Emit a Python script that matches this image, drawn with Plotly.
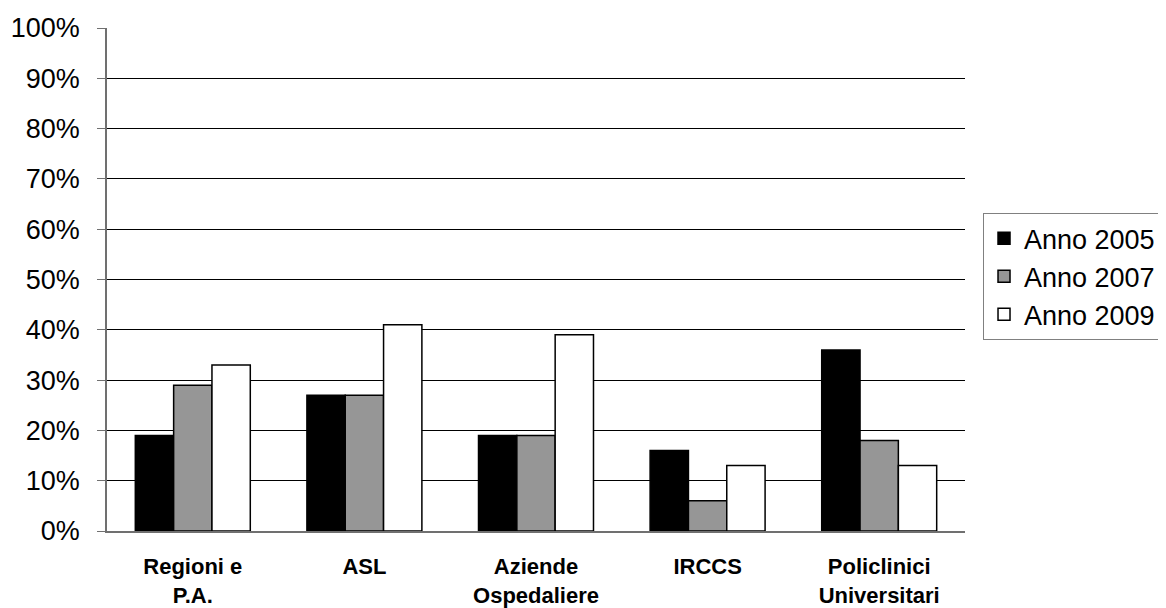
import plotly.graph_objects as go

categories = ["Regioni e<br>P.A.", "ASL", "Aziende<br>Ospedaliere", "IRCCS", "Policlinici<br>Universitari"]
series_names = ["Anno 2005", "Anno 2007", "Anno 2009"]
anno_2005 = [19, 27, 19, 16, 36]
anno_2007 = [29, 27, 19, 6, 18]
anno_2009 = [33, 41, 39, 13, 13]
y_ticks = [0, 10, 20, 30, 40, 50, 60, 70, 80, 90, 100]
y_tick_labels = [f"{v}%" for v in y_ticks]

colors = ["#000000", "#969696", "#ffffff"]
values = [anno_2005, anno_2007, anno_2009]

fig = go.Figure()
for i, (name, vals) in enumerate(zip(series_names, values)):
    fig.add_trace(go.Bar(
        x=categories, y=vals, name=name,
        marker=dict(color=colors[i], line=dict(color="#000000", width=1.5)),
        legendgroup=name,
    ))

# page body adds an 8px margin, so the figure is 8px smaller each way
fig.update_layout(
    width=1158, height=600,
    margin=dict(l=99, r=201, t=20, b=77, autoexpand=False),
    paper_bgcolor="white", plot_bgcolor="white",
    barmode="group", bargap=0.33, bargroupgap=0,
    font=dict(family="Liberation Sans, Arial", color="black"),
    showlegend=True,
    legend=dict(
        x=1.021, y=0.632, xanchor="left", yanchor="top",
        font=dict(size=27, family="Liberation Sans, Arial"),
        bordercolor="#808080", borderwidth=1,
        tracegroupgap=11,
        traceorder="normal",
    ),
)
fig.update_yaxes(
    range=[0, 100], tickvals=y_ticks, ticktext=y_tick_labels,
    showgrid=True, gridcolor="#000000", gridwidth=1,
    showline=True, linecolor="#707070", linewidth=1.5,
    ticks="outside", ticklen=8, tickcolor="#707070",
    tickfont=dict(size=27), zeroline=False,
    ticklabelstandoff=12, automargin=False,
)
fig.update_xaxes(
    showline=True, linecolor="#707070", linewidth=1.5,
    tickfont=dict(size=22, family="Liberation Sans, Arial"),
    ticks="", ticklabelstandoff=15, automargin=False,
    ticktext=[f"<b>{c}</b>" for c in categories], tickvals=categories,
)
fig.write_html("out.html")
